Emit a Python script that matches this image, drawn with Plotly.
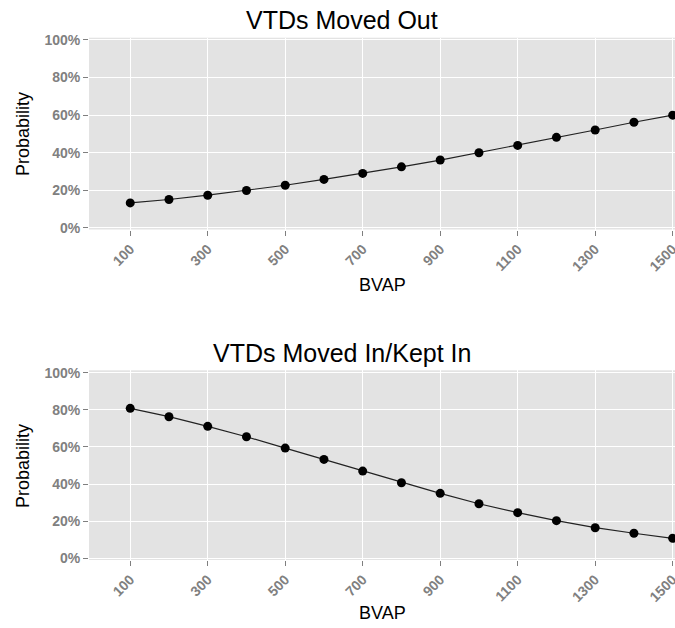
import plotly.graph_objects as go
from plotly.subplots import make_subplots

bvap = [100, 200, 300, 400, 500, 600, 700, 800, 900, 1000, 1100, 1200, 1300, 1400, 1500]
moved_out = [0.133, 0.151, 0.174, 0.199, 0.227, 0.258, 0.290, 0.325, 0.361, 0.400,
             0.439, 0.482, 0.521, 0.562, 0.600]
moved_in = [0.808, 0.763, 0.711, 0.655, 0.594, 0.533, 0.470, 0.407, 0.350, 0.294,
            0.246, 0.203, 0.165, 0.135, 0.108]
titles = ["VTDs Moved Out", "VTDs Moved In/Kept In"]
x_ticks = [100, 300, 500, 700, 900, 1100, 1300, 1500]
y_ticks = [0, 0.2, 0.4, 0.6, 0.8, 1.0]

W, H = 675, 628
L = 89  # plot area left edge


def py(v):
    return 1 - v / H


def px(v):
    return (v - L) / (W - L)


fig = make_subplots(rows=2, cols=1)

for i, ys in enumerate([moved_out, moved_in], start=1):
    fig.add_trace(go.Scatter(
        x=bvap, y=ys, mode="lines+markers",
        line=dict(color="#222222", width=1.2),
        marker=dict(color="black", size=9),
        showlegend=False, cliponaxis=True), row=i, col=1)

tickfont = dict(family="Liberation Sans, Arial", size=14, color="#808080", weight="bold")
common_x = dict(range=[-6.4, 1506], tickvals=x_ticks, tickangle=-45, tickfont=tickfont,
                ticks="outside", ticklen=5, tickcolor="#7F7F7F", showgrid=True,
                gridcolor="white", gridwidth=1, zeroline=False, showline=False,
                automargin=False, ticklabeloverflow="allow")
common_y = dict(tickvals=y_ticks, tickformat=".0%", tickfont=tickfont,
                ticks="outside", ticklen=5, tickcolor="#7F7F7F", showgrid=True,
                gridcolor="white", gridwidth=1, zeroline=False, showline=False,
                automargin=False)

fig.update_xaxes(**common_x)
fig.update_yaxes(**common_y)
fig.update_yaxes(range=[-0.0085, 1.012], row=1, col=1)
fig.update_yaxes(range=[-0.009, 1.013], row=2, col=1)

fig.update_layout(
    width=W, height=H,
    margin=dict(l=L, r=0, t=0, b=0, autoexpand=False),
    paper_bgcolor="white", plot_bgcolor="#E3E3E3",
    font=dict(family="Liberation Sans, Arial", color="black"),
    xaxis=dict(domain=[0, 1]), xaxis2=dict(domain=[0, 1]),
    yaxis=dict(domain=[py(229.5), py(37.7)]),
    yaxis2=dict(domain=[py(560), py(370.3)]),
)

title_y = [20, 353]
bvap_y = [285, 613]
prob_y = [134, 466]
for k in range(2):
    fig.add_annotation(text=titles[k], x=px(341.5), y=py(title_y[k]),
                       xref="paper", yref="paper", showarrow=False,
                       font=dict(size=25, color="black"), xanchor="center", yanchor="middle")
    fig.add_annotation(text="BVAP", x=px(382), y=py(bvap_y[k]),
                       xref="paper", yref="paper", showarrow=False,
                       font=dict(size=18, color="black"), xanchor="center", yanchor="middle")
    fig.add_annotation(text="Probability", x=px(23), y=py(prob_y[k]),
                       xref="paper", yref="paper", showarrow=False, textangle=-90,
                       font=dict(size=18, color="black"), xanchor="center", yanchor="middle")

fig.write_html(
    "out.html",
    config={"displayModeBar": False},
    post_script="document.body.style.margin='0';document.body.style.overflow='hidden';",
)
